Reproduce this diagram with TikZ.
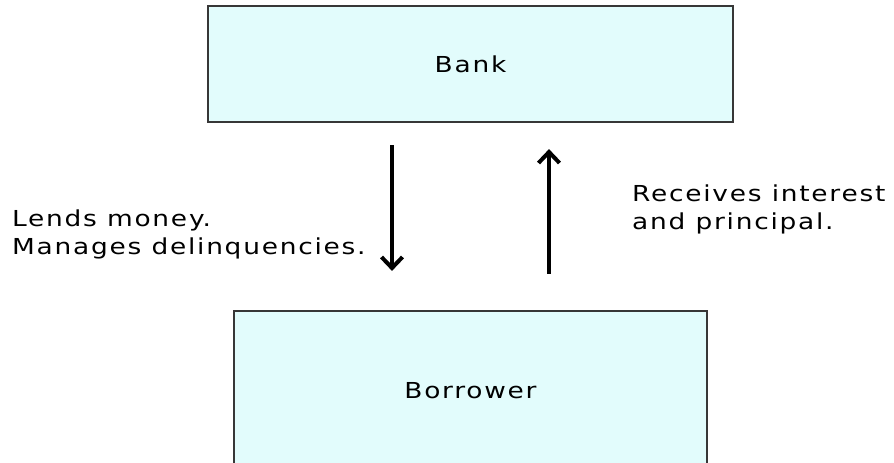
\documentclass[tikz,border=0pt]{standalone}
\usepackage{fontspec}
\setmainfont{DejaVu Sans}[FakeStretch=1.2, LetterSpace=8]
\usetikzlibrary{arrows.meta}
\definecolor{boxfill}{RGB}{226,252,252}
\definecolor{boxline}{RGB}{55,55,55}
\begin{document}
\begin{tikzpicture}[x=1pt,y=-1pt,
  party/.style={draw=boxline, line width=2.2pt, fill=boxfill, rectangle, inner sep=0pt,
    font=\fontsize{22}{27.5}\selectfont},
  lbl/.style={inner sep=0pt, align=left, font=\fontsize{22}{27.5}\selectfont},
  flow/.style={line width=4pt, -{Straight Barb[length=11pt,width=21pt]}}]
\useasboundingbox (0,0) rectangle (894,463);
\clip (0,0) rectangle (894,463);
\node[party, minimum width=525pt, minimum height=116pt] (bank) at (470.5,64) {Bank};
\node[party, minimum width=473pt, minimum height=160pt] (borrower) at (470.5,391) {Borrower};
\coordinate (dx) at (392,0);
\coordinate (ux) at (549,0);
\draw[flow, shorten <=22pt, shorten >=39pt] (bank.south -| dx) -- (borrower.north -| dx);
\draw[flow, shorten <=36pt, shorten >=26pt] (borrower.north -| ux) -- (bank.south -| ux);
\node[lbl, anchor=north west] (lend) at (12,210) {Lends money.\\Manages delinquencies.};
\node[lbl, anchor=north west] (recv) at (632,185) {Receives interest\\and principal.};
\end{tikzpicture}
\end{document}
